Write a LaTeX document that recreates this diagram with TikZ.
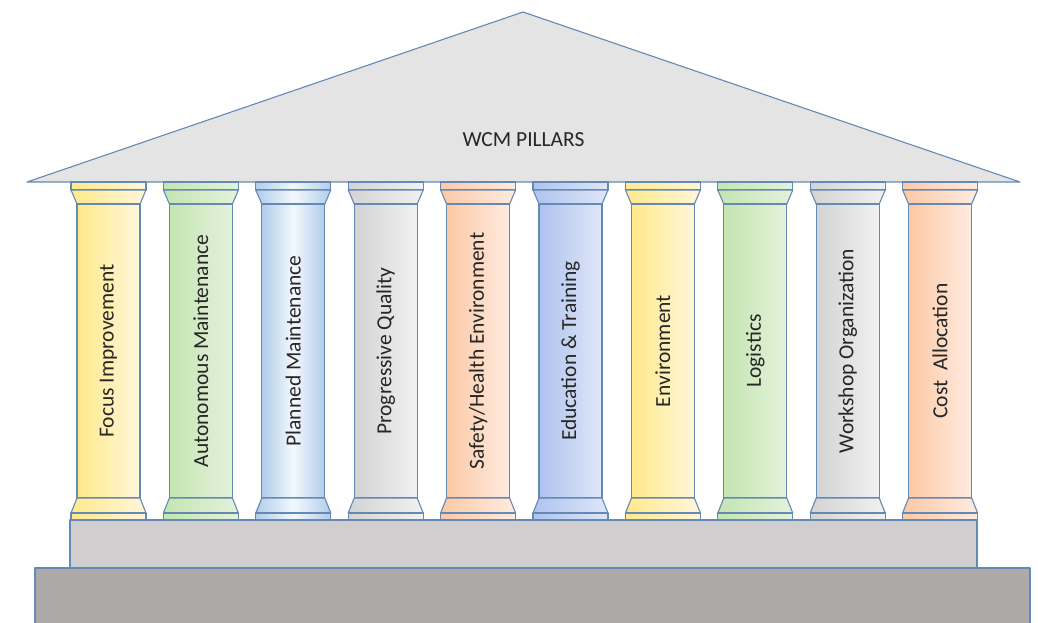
\documentclass[tikz,border=0pt]{standalone}
\usepackage{fontspec}
\setmainfont{Carlito}
\usepackage{xcolor}
\definecolor{pillarline}{HTML}{6489B4}
\definecolor{roofgray}{HTML}{E4E4E4}
\definecolor{stepgray}{HTML}{D0CECF}
\definecolor{basegray}{HTML}{ADA9A8}
\definecolor{yelA}{HTML}{FFE98A}
\definecolor{yelB}{HTML}{FFF6DA}
\definecolor{grnA}{HTML}{C4E5B0}
\definecolor{grnB}{HTML}{E4F2DC}
\definecolor{bluA}{HTML}{B0CDEA}
\definecolor{bluB}{HTML}{F4F8FD}
\definecolor{gryA}{HTML}{D3D3D3}
\definecolor{gryB}{HTML}{F1F1F1}
\definecolor{ornA}{HTML}{FCC9A5}
\definecolor{ornB}{HTML}{FFEBE0}
\definecolor{edA}{HTML}{AFC3EE}
\definecolor{edB}{HTML}{DFE7F8}

\begin{document}
\begin{tikzpicture}[x=1pt,y=-1pt,line join=round,
	outline/.style={draw=pillarline,line width=1.1pt},
	label/.style={rotate=90,text=black!85,font=\fontsize{21.5}{25}\selectfont}]
	\useasboundingbox (0,0) rectangle (1038,622);
	
	% foundation
	\draw[outline,fill=basegray] (35,568) rectangle (1030,630);
	\draw[outline,fill=stepgray] (70,520) rectangle (977,568);
	
	% roof
	\draw[outline,fill=roofgray] (27,182) -- (523,12) -- (1020,182) -- cycle;
	\node[text=black!85,font=\fontsize{21.5}{25}\selectfont] (roof) at (523.5,139.5) {WCM PILLARS};
	
	% pillars
	\foreach \i/\txt/\ca/\cb/\cm in {
		1/{Focus Improvement}/yelA/yelB/yelA!50!yelB,
		2/{Autonomous Maintenance}/grnA/grnB/grnA!50!grnB,
		3/{Planned Maintenance}/bluA/bluA/bluB,
		4/{Progressive Quality}/gryA/gryB/gryA!50!gryB,
		5/{Safety/Health Environment}/ornA/ornB/ornA!50!ornB,
		6/{Education \& Training}/edA/edB/edA!50!edB,
		7/{Environment}/yelA/yelB/yelA!50!yelB,
		8/{Logistics}/grnA/grnB/grnA!50!grnB,
		9/{Workshop Organization}/gryA/gryB/gryA!50!gryB,
		10/{Cost~ Allocation}/ornA/ornB/ornA!50!ornB}
	{
		\pgfmathsetmacro{\c}{108.5+92.4*(\i-1)}
		\begin{scope}[outline,left color=\ca,right color=\cb,middle color=\cm]
			\shade[draw] (\c-37.5,182) rectangle (\c+37.5,190);
			\shade[draw] (\c-37.5,190) -- (\c+37.5,190) -- (\c+31.5,204) -- (\c-31.5,204) -- cycle;
			\shade[draw] (\c-31.5,204) rectangle (\c+31.5,498);
			\shade[draw] (\c-31.5,498) -- (\c+31.5,498) -- (\c+37.5,513) -- (\c-37.5,513) -- cycle;
			\shade[draw] (\c-37.5,513) rectangle (\c+37.5,520);
		\end{scope}
		\node[label] (p\i) at (\c,351) {\txt};
	}
\end{tikzpicture}
\end{document}
